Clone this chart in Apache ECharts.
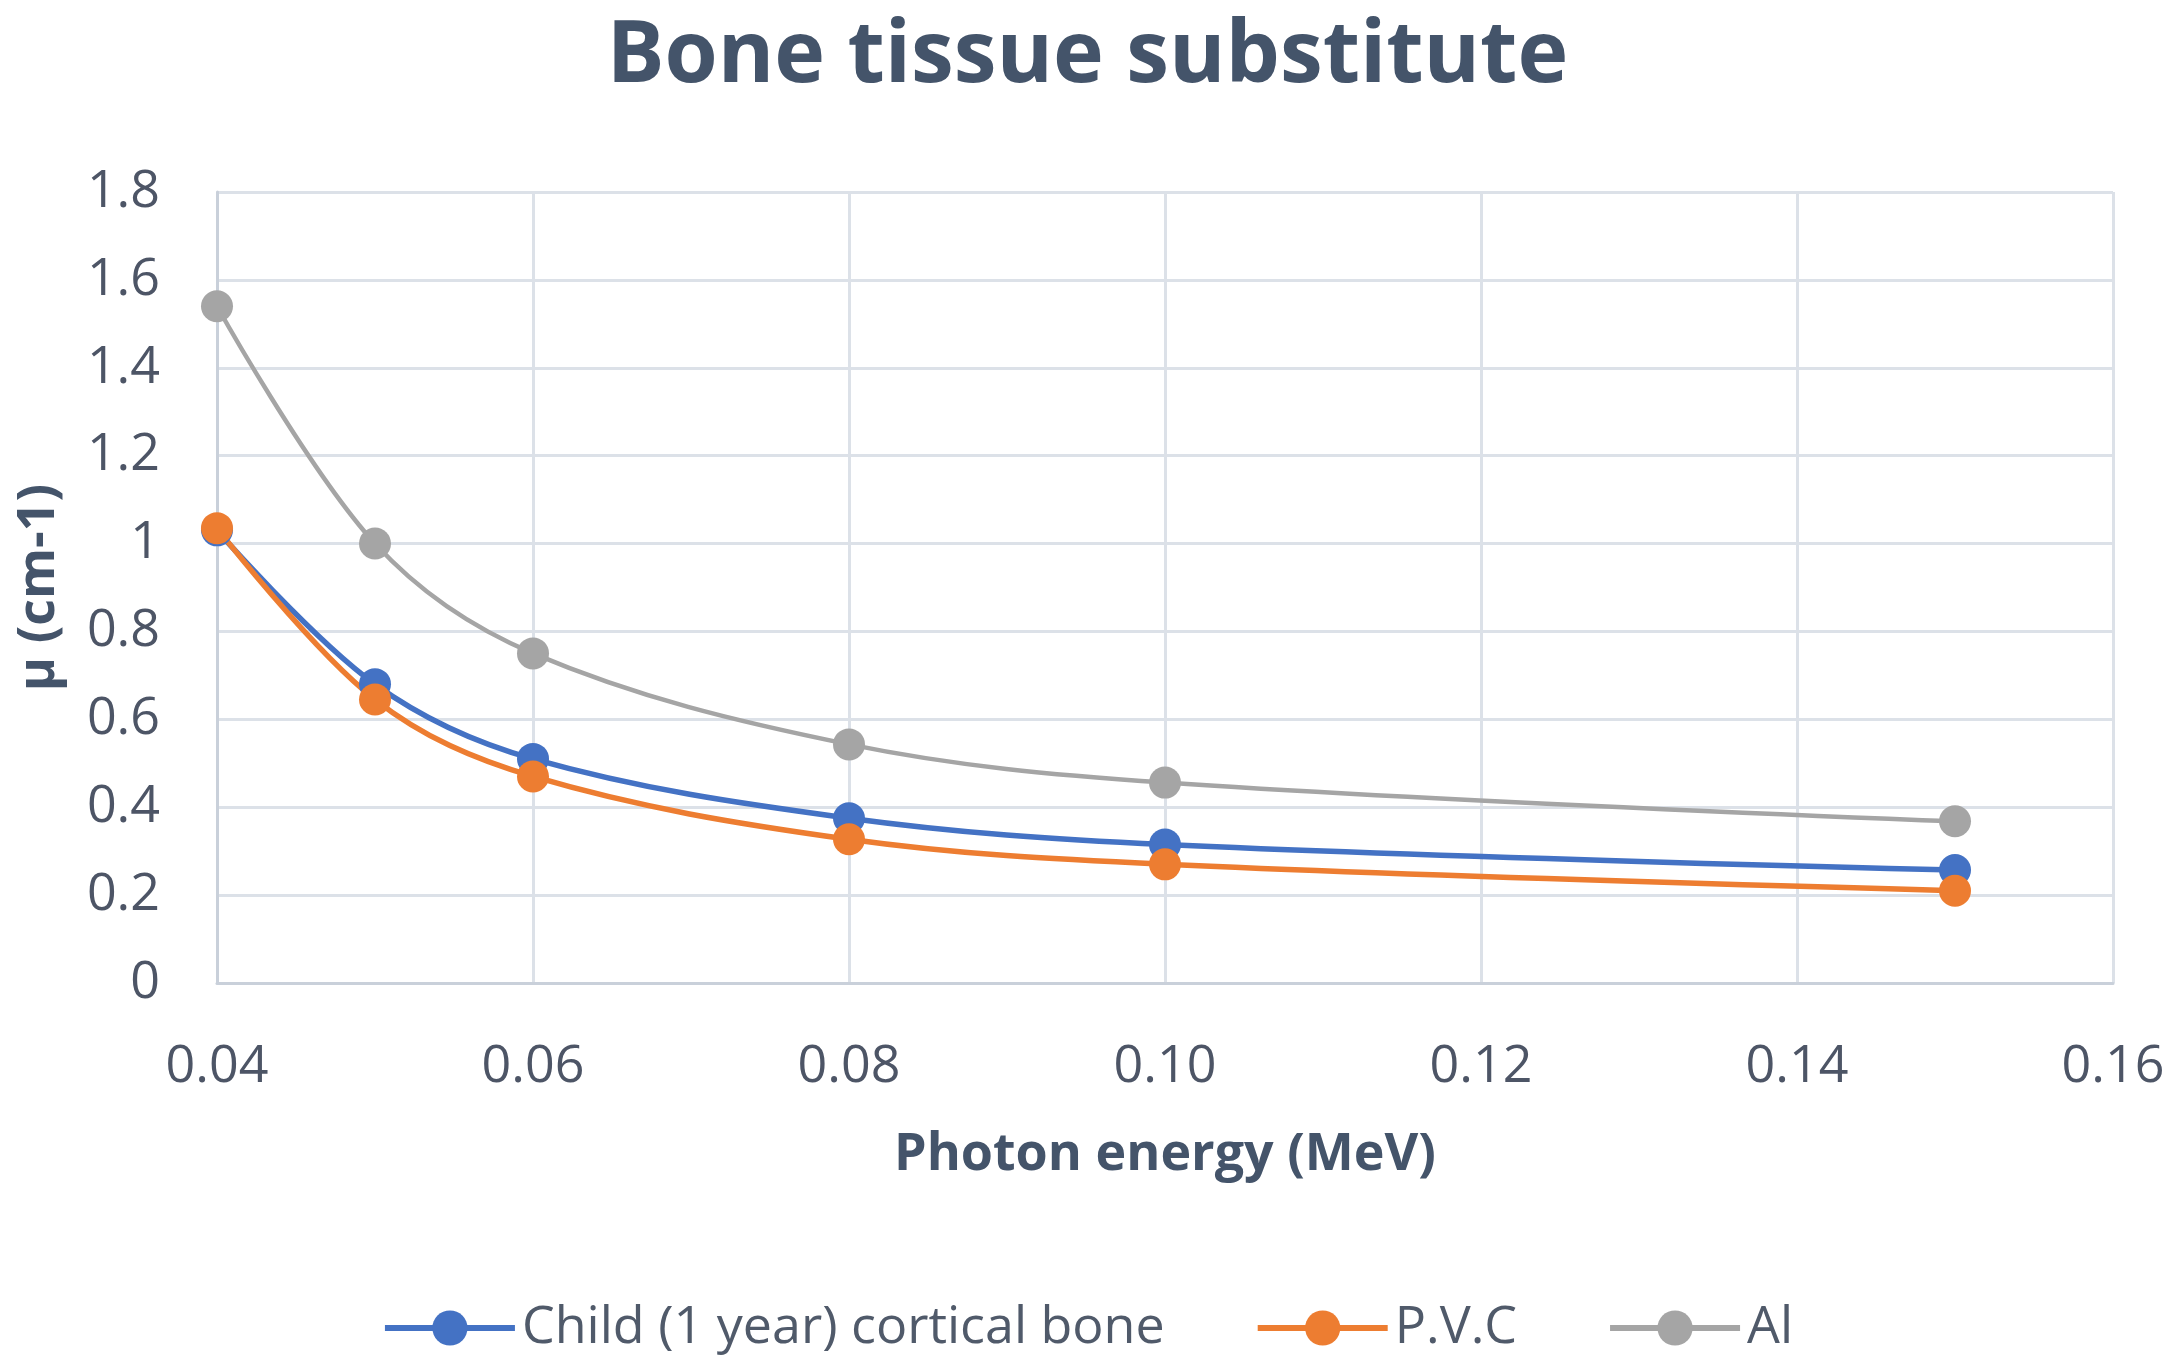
<!DOCTYPE html>
<html>
<head>
<meta charset="utf-8">
<script src="https://cdn.jsdelivr.net/npm/echarts@6/dist/echarts.min.js"></script>
<style>
html,body{margin:0;padding:0;background:#fff;}
#chart{width:2175px;height:1359px;}
</style>
</head>
<body>
<div id="chart"></div>
<script>
var energies = [0.04, 0.05, 0.06, 0.08, 0.10, 0.15];
var childBone = [1.03, 0.68, 0.51, 0.375, 0.315, 0.257];
var pvc = [1.035, 0.645, 0.47, 0.327, 0.27, 0.21];
var al = [1.54, 1.0, 0.75, 0.543, 0.456, 0.368];
var seriesNames = ['Child (1 year) cortical bone', 'P.V.C', 'Al'];
var seriesColors = ['#4472C4', '#ED7D31', '#A5A5A5'];
var xTicks = [0.04, 0.06, 0.08, 0.10, 0.12, 0.14, 0.16];

function pairs(vals){ return energies.map(function(x,i){ return [x, vals[i]]; }); }

var chart = echarts.init(document.getElementById('chart'));
var font = '"Open Sans", sans-serif';
var dataSets = [childBone, pvc, al];
var series = dataSets.map(function(d, i){
  return {
    name: seriesNames[i],
    type: 'line',
    data: pairs(d),
    smooth: 0.35,
    symbol: 'circle',
    symbolSize: 32,
    showSymbol: true,
    itemStyle: { color: seriesColors[i] },
    lineStyle: { color: seriesColors[i], width: i === 2 ? 4.5 : 5.5 },
    emphasis: { disabled: true },
    animation: false
  };
});

chart.setOption({
  backgroundColor: '#ffffff',
  animation: false,
  textStyle: { fontFamily: font },
  title: {
    text: 'Bone tissue substitute',
    left: 'center',
    top: 9,
    textStyle: { fontFamily: font, fontWeight: 'bold', fontSize: 86, color: '#44546A' }
  },
  grid: { left: 217, right: 62, top: 192, bottom: 376, containLabel: false, outerBoundsMode: 'none' },
  legend: {
    data: seriesNames,
    bottom: 0,
    left: 'center',
    itemWidth: 130,
    itemHeight: 44,
    itemGap: 90,
    lineStyle: { width: 6 },
    textStyle: { fontFamily: font, fontSize: 52, color: '#505a6a', padding: [0,0,0,2] }
  },
  xAxis: {
    type: 'value',
    min: 0.04,
    max: 0.16,
    interval: 0.02,
    name: 'Photon energy (MeV)',
    nameLocation: 'middle',
    nameGap: 146,
    nameTextStyle: { fontFamily: font, fontWeight: 'bold', fontSize: 52, color: '#44546A' },
    axisLine: { show: true, lineStyle: { color: '#C9D0DA', width: 3 } },
    axisTick: { show: false },
    splitLine: { show: true, lineStyle: { color: '#DCE1E8', width: 3 } },
    axisLabel: {
      fontFamily: font, fontSize: 52, color: '#4D5566', margin: 58,
      formatter: function(v){ return v.toFixed(2); }
    }
  },
  yAxis: {
    type: 'value',
    min: 0,
    max: 1.8,
    interval: 0.2,
    name: 'µ (cm-1)',
    nameLocation: 'middle',
    nameGap: 152,
    nameRotate: 90,
    nameTextStyle: { fontFamily: font, fontWeight: 'bold', fontSize: 52, color: '#44546A' },
    axisLine: { show: true, lineStyle: { color: '#C9D0DA', width: 3 } },
    axisTick: { show: false },
    splitLine: { show: true, lineStyle: { color: '#DCE1E8', width: 3 } },
    axisLabel: {
      fontFamily: font, fontSize: 52, color: '#4D5566', margin: 57,
      formatter: function(v){ return String(Math.round(v*10)/10); }
    }
  },
  series: series
});
</script>
</body>
</html>
